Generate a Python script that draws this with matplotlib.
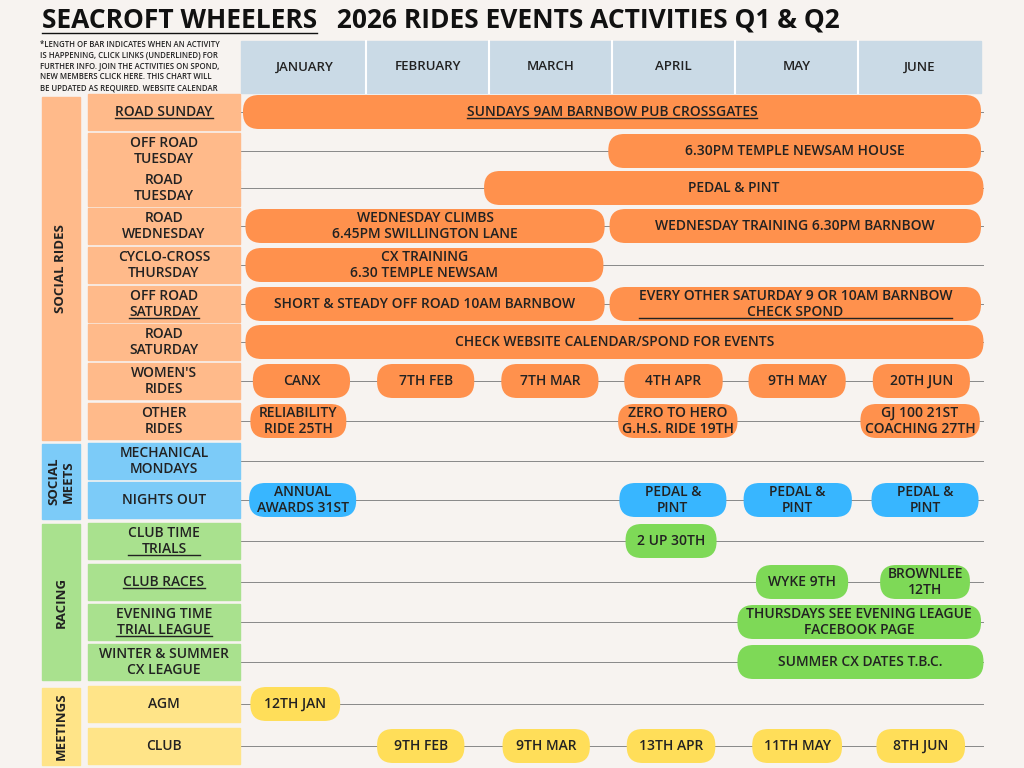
import matplotlib
matplotlib.use("Agg")
import matplotlib.pyplot as plt
from matplotlib.patches import FancyBboxPatch, Rectangle

plt.rcParams["font.family"] = ["Open Sans", "DejaVu Sans"]

MONTHS = ["JANUARY", "FEBRUARY", "MARCH", "APRIL", "MAY", "JUNE"]

# rows: (label, underlined, section)
ROWS = [
    ("ROAD SUNDAY", True, "social"),
    ("OFF ROAD\nTUESDAY", False, "social"),
    ("ROAD\nTUESDAY", False, "social"),
    ("ROAD\nWEDNESDAY", False, "social"),
    ("CYCLO-CROSS\nTHURSDAY", False, "social"),
    ("OFF ROAD\nSATURDAY", True, "social"),
    ("ROAD\nSATURDAY", False, "social"),
    ("WOMEN'S\nRIDES", False, "social"),
    ("OTHER\nRIDES", False, "social"),
    ("MECHANICAL\nMONDAYS", False, "meets"),
    ("NIGHTS OUT", False, "meets"),
    ("CLUB TIME\nTRIALS", True, "racing"),
    ("CLUB RACES", True, "racing"),
    ("EVENING TIME\nTRIAL LEAGUE", True, "racing"),
    ("WINTER & SUMMER\nCX LEAGUE", False, "racing"),
    ("AGM", False, "meet"),
    ("CLUB", False, "meet"),
]
ROW_Y = [112, 151, 188, 226, 265, 304, 342, 381, 421, 461, 500, 541, 582, 622, 662, 704, 746]

# activities: (row index, start month, end month, text, underlined)
BARS = [
    (0, 0.0, 6.0, "SUNDAYS 9AM BARNBOW PUB CROSSGATES", True),
    (1, 2.97, 6.0, "6.30PM TEMPLE NEWSAM HOUSE", False),
    (2, 1.96, 6.02, "PEDAL & PINT", False),
    (3, 0.02, 2.94, "WEDNESDAY CLIMBS\n6.45PM SWILLINGTON LANE", False),
    (3, 2.98, 6.0, "WEDNESDAY TRAINING 6.30PM BARNBOW", False),
    (4, 0.02, 2.93, "CX TRAINING\n6.30 TEMPLE NEWSAM", False),
    (5, 0.02, 2.94, "SHORT & STEADY OFF ROAD 10AM BARNBOW", False),
    (5, 2.98, 6.0, "EVERY OTHER SATURDAY 9 OR 10AM BARNBOW\nCHECK SPOND", True),
    (6, 0.02, 6.02, "CHECK WEBSITE CALENDAR/SPOND FOR EVENTS", False),
    (7, 0.08, 0.87, "CANX", False),
    (7, 1.09, 1.88, "7TH FEB", False),
    (7, 2.1, 2.89, "7TH MAR", False),
    (7, 3.1, 3.9, "4TH APR", False),
    (7, 4.11, 4.9, "9TH MAY", False),
    (7, 5.12, 5.91, "20TH JUN", False),
    (8, 0.06, 0.84, "RELIABILITY\nRIDE 25TH", False),
    (8, 3.05, 4.02, "ZERO TO HERO\nG.H.S. RIDE 19TH", False),
    (8, 5.02, 5.99, "GJ 100 21ST\nCOACHING 27TH", False),
    (10, 0.05, 0.92, "ANNUAL\nAWARDS 31ST", False),
    (10, 3.06, 3.93, "PEDAL &\nPINT", False),
    (10, 4.07, 4.95, "PEDAL &\nPINT", False),
    (10, 5.11, 5.98, "PEDAL &\nPINT", False),
    (11, 3.11, 3.85, "2 UP 30TH", False),
    (12, 4.17, 4.92, "WYKE 9TH", False),
    (12, 5.18, 5.91, "BROWNLEE\n12TH", False),
    (13, 4.02, 6.0, "THURSDAYS SEE EVENING LEAGUE\nFACEBOOK PAGE", False),
    (14, 4.02, 6.02, "SUMMER CX DATES T.B.C.", False),
    (15, 0.06, 0.79, "12TH JAN", False),
    (16, 1.09, 1.8, "9TH FEB", False),
    (16, 2.11, 2.82, "9TH MAR", False),
    (16, 3.12, 3.84, "13TH APR", False),
    (16, 4.14, 4.87, "11TH MAY", False),
    (16, 5.15, 5.87, "8TH JUN", False),
]

SECTIONS = [("SOCIAL RIDES", 97, 440), ("SOCIAL\nMEETS", 444, 519),
            ("RACING", 524, 680), ("MEETINGS", 688, 765)]

BAR_COL = {"social": "#FF914D", "meets": "#38B6FF", "racing": "#7ED957", "meet": "#FFDE59"}
LAB_COL = {"social": "#FFBA8A", "meets": "#7CCBF8", "racing": "#A9E18E", "meet": "#FFE488"}
SEC_COL = ["#FFBA8A", "#7CCBF8", "#A9E18E", "#FFE488"]
X0, MW = 243, 123  # chart origin and month width in pixels


def mx(m):
    return X0 + m * MW


fig = plt.figure(figsize=(10.24, 7.68), dpi=100)
fig.patch.set_facecolor("#F7F3F0")
ax = fig.add_axes([0, 0, 1, 1])
ax.set_xlim(0, 1024)
ax.set_ylim(768, 0)
ax.axis("off")


def underline(t, color="#222"):
    fig.canvas.draw()
    r = fig.canvas.get_renderer()
    bb = t.get_window_extent(r).transformed(ax.transData.inverted())
    x0, x1 = sorted([bb.x0, bb.x1])
    y = max(bb.y0, bb.y1)
    ax.plot([x0, x1], [y - 1, y - 1], color=color, lw=1, zorder=4)


def txt(x, y, s, size=10, ul=False, **kw):
    kw.setdefault("fontweight", "semibold")
    t = ax.text(x, y, s, ha="center", va="center", fontsize=size,
                color="#222", linespacing=1.15, **kw)
    if ul:
        underline(t)
    return t


# title
t1 = ax.text(42, 20, "SEACROFT WHEELERS", fontsize=19, fontweight="bold", va="center", color="#111")
underline(t1, "#111")
ax.text(330, 20, " 2026 RIDES EVENTS ACTIVITIES Q1 & Q2", fontsize=19, fontweight="bold",
        va="center", color="#111")

ax.text(40, 66, "*LENGTH OF BAR INDICATES WHEN AN ACTIVITY\nIS HAPPENING, CLICK LINKS (UNDERLINED) FOR\n"
        "FURTHER INFO. JOIN THE ACTIVITIES ON SPOND,\nNEW MEMBERS CLICK HERE. THIS CHART WILL\n"
        "BE UPDATED AS REQUIRED. WEBSITE CALENDAR", fontsize=5.6, fontweight="semibold",
        va="center", color="#222", linespacing=1.25)

# month header
ax.add_patch(Rectangle((241, 41), 740, 52, color="#CADAE6", zorder=0))
for i, m in enumerate(MONTHS):
    if i:
        ax.plot([mx(i), mx(i)], [41, 93], color="white", lw=1.5)
    txt(mx(i + 0.5), 67, m, size=9.5)

# sections
for (name, y0, y1), c in zip(SECTIONS, SEC_COL):
    ax.add_patch(Rectangle((42, y0), 38, y1 - y0, color=c))
    txt(61, (y0 + y1) / 2, name, size=9.5, rotation=90, fontweight="bold")

# rows
for (lab, ul, sec), y in zip(ROWS, ROW_Y):
    ax.plot([240, 983], [y, y], color="#888", lw=0.7, zorder=0)
    ax.add_patch(Rectangle((88, y - 18), 152, 36, color=LAB_COL[sec]))
    txt(164, y, lab, size=10, ul=ul)

for r, s, e, label, ul in BARS:
    y = ROW_Y[r]
    col = BAR_COL[ROWS[r][2]]
    ax.add_patch(FancyBboxPatch((mx(s), y - 17), mx(e) - mx(s), 34,
                                boxstyle="round,pad=0,rounding_size=16", fc=col, ec="none", zorder=2))
    txt((mx(s) + mx(e)) / 2, y, label, size=10, ul=ul, zorder=3)

fig.savefig("out.png", dpi=100, facecolor=fig.get_facecolor())
